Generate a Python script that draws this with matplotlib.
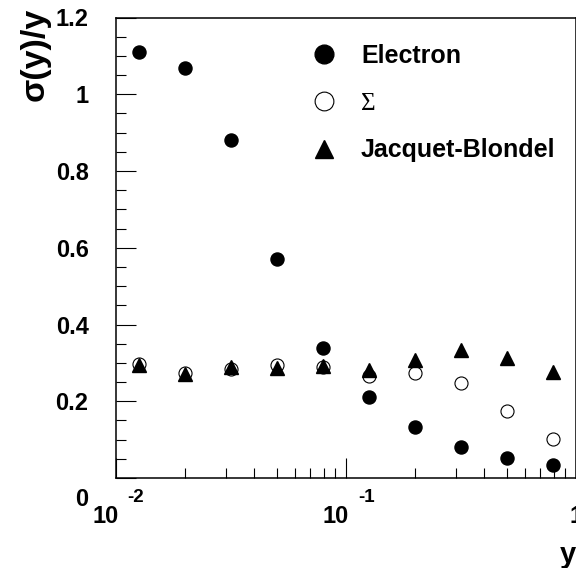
import matplotlib
matplotlib.use("Agg")
import matplotlib.pyplot as plt
from matplotlib.lines import Line2D
from matplotlib.transforms import ScaledTranslation, blended_transform_factory
import matplotlib.ticker as mticker

# ---- data ----
y_bins = [0.0126, 0.02, 0.0316, 0.05, 0.0794, 0.126, 0.2, 0.316, 0.5, 0.794]
electron = [1.111, 1.069, 0.880, 0.571, 0.338, 0.212, 0.134, 0.080, 0.051, 0.033]
sigma = [0.297, 0.273, 0.284, 0.294, 0.290, 0.266, 0.273, 0.247, 0.174, 0.102]
jacquet_blondel = [0.295, 0.272, 0.289, 0.286, 0.293, 0.281, 0.307, 0.334, 0.314, 0.275]
series_labels = ["Electron", "\u03A3", "Jacquet-Blondel"]
x_tick_values = [0.01, 0.1, 1.0]
x_tick_bases = ["10", "10", "1"]
x_tick_exps = ["-2", "-1", ""]
y_tick_values = [0, 0.2, 0.4, 0.6, 0.8, 1, 1.2]
y_tick_labels = ["0", "0.2", "0.4", "0.6", "0.8", "1", "1.2"]

W, H, DPI = 576, 568, 100
fig = plt.figure(figsize=(W / DPI, H / DPI), dpi=DPI)
left, right, top, bottom = 115.7, 576.0, 17.5, 478.0
ax = fig.add_axes([left / W, 1 - bottom / H, (right - left) / W, (bottom - top) / H])

FONT = "Liberation Sans"
ms = 9.4
ax.plot(y_bins, electron, linestyle="none", marker="o", ms=ms, color="black", zorder=3)
ax.plot(y_bins, sigma, linestyle="none", marker="o", ms=ms, mfc="white", mec="black", mew=0.8, zorder=4)
ax.plot(y_bins, jacquet_blondel, linestyle="none", marker="^", ms=ms, color="black", zorder=5)

ax.set_xscale("log")
ax.set_xlim(0.01, 1.0)
ax.set_ylim(0, 1.2)

for sp in ax.spines.values():
    sp.set_linewidth(1.1)

ax.yaxis.set_major_locator(mticker.FixedLocator(y_tick_values))
ax.yaxis.set_minor_locator(mticker.MultipleLocator(0.05))
ax.yaxis.set_major_formatter(mticker.FixedFormatter(y_tick_labels))
ax.xaxis.set_major_locator(mticker.FixedLocator(x_tick_values))
ax.xaxis.set_minor_locator(mticker.LogLocator(base=10, subs=range(2, 10)))
ax.xaxis.set_major_formatter(mticker.NullFormatter())
ax.xaxis.set_minor_formatter(mticker.NullFormatter())

ax.tick_params(which="both", direction="in", top=False, right=False, width=0.8, color="black")
ax.tick_params(which="major", length=14.4)
ax.tick_params(which="minor", length=7.2)
ax.tick_params(axis="y", which="major", pad=19.5, labelsize=17)
for lab in ax.get_yticklabels():
    lab.set_fontfamily(FONT)
    lab.set_fontweight("bold")

# shift the "0" label down as in the reference
lab0 = ax.get_yticklabels()[0]
lab0.set_transform(lab0.get_transform() + ScaledTranslation(0, -19 / DPI, fig.dpi_scale_trans))

# x tick labels: base + raised exponent
btrans = blended_transform_factory(ax.transData, ax.transAxes)
for xv, base, ex in zip(x_tick_values, x_tick_bases, x_tick_exps):
    if ex:
        t = btrans + ScaledTranslation(-10 / DPI, -27 / DPI, fig.dpi_scale_trans)
        ax.text(xv, 0, base, transform=t, ha="center", va="top", fontsize=17,
                fontweight="bold", family=FONT, clip_on=False)
        t2 = btrans + ScaledTranslation(12 / DPI, -28 / DPI, fig.dpi_scale_trans)
        ax.text(xv, 0, ex, transform=t2, ha="left", va="bottom", fontsize=13.5,
                fontweight="bold", family=FONT, clip_on=False)
    else:
        t = btrans + ScaledTranslation(0, -27 / DPI, fig.dpi_scale_trans)
        ax.text(xv, 0, base, transform=t, ha="center", va="top", fontsize=17,
                fontweight="bold", family=FONT, clip_on=False)

# axis titles
fig.text(576 / W, 1 - 541 / H, "y", ha="right", va="top", fontsize=21,
         fontweight="bold", family=FONT)
fig.text(35 / W, 1 - 8 / H, "\u03C3(y)/y", ha="center", va="top", rotation=90,
         fontsize=24.5, fontweight="bold", family=FONT)

# legend
handles = [
    Line2D([], [], linestyle="none", marker="o", ms=13.5, color="black"),
    Line2D([], [], linestyle="none", marker="o", ms=13.5, mfc="white", mec="black", mew=0.8),
    Line2D([], [], linestyle="none", marker="^", ms=13.5, color="black"),
]
leg = ax.legend(handles, series_labels, loc="upper left",
                bbox_to_anchor=(311 / W, 1 - 44 / H), bbox_transform=fig.transFigure,
                frameon=False, borderpad=0, borderaxespad=0, handlelength=1.0,
                handletextpad=1.0, labelspacing=0.96,
                prop={"family": FONT, "weight": "bold", "size": 18})
sig_txt = leg.get_texts()[1]
sig_txt.set_fontfamily("Liberation Serif")
sig_txt.set_fontweight("normal")

fig.savefig("out.png", dpi=DPI)
